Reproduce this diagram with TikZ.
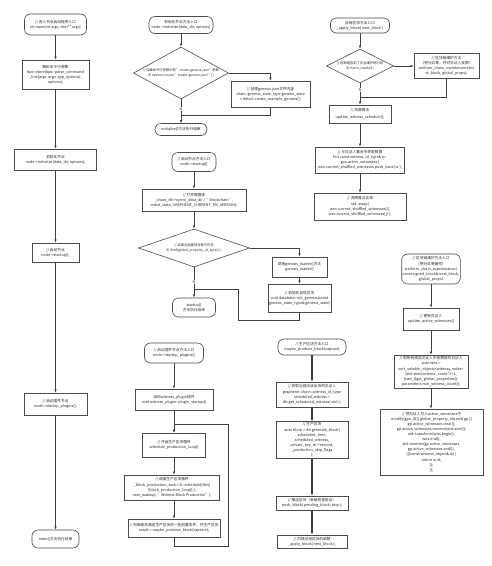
\documentclass[tikz,border=0pt]{standalone}
\usepackage{fontspec}
\setmainfont{Noto Sans CJK SC}
\usetikzlibrary{arrows.meta,shapes.geometric}
\newcommand\ft{\fontsize{3.7}{5.1}\selectfont}
\newcommand\fd{\fontsize{3.3}{4.8}\selectfont}
\tikzset{
  box/.style={draw=black!70, line width=0.6pt, fill=white, align=center, inner sep=1pt, font=\ft, text=black!85},
  term/.style={box, rounded corners=6pt},
  dia/.style={draw=black!70, line width=0.6pt, fill=white, diamond, inner sep=0pt},
  dtxt/.style={align=center, inner sep=0pt, font=\fd, text=black!85},
  ln/.style={line width=0.6pt, draw=black!75},
  arr/.style={ln, -{Latex[length=3.2pt,width=2.6pt]}},
  thk/.style={line width=1.1pt},
  lab/.style={font=\ft, fill=white, inner sep=0.5pt, text=black!85}
}
\begin{document}
\begin{tikzpicture}[x=1pt,y=-1pt]
\useasboundingbox[fill=white] (0,0) rectangle (492,566);

% ---------- column 1 ----------
\node[term, minimum width=62pt, minimum height=21pt] (s1) at (55.5,24.5) {// 进入节点启动程序入口\\int main(int argc, char** argv)};
\node[box, minimum width=67pt, minimum height=29pt] (p1) at (55.5,74.5) {解析命令行参数\\bpo::store(bpo::parse\_command\\\_line(argc, argv, app\_options),\\options);};
\node[box, minimum width=82pt, minimum height=21pt] (p2) at (55.5,159.5) {初始化节点\\node->initialize(data\_dir, options);};
\node[box, minimum width=47pt, minimum height=19pt] (p3) at (55.5,252.5) {// 启动节点\\node->startup();};
\node[box, minimum width=63pt, minimum height=22pt] (p4) at (55.5,404) {// 启动插件节点\\node->startup\_plugins();};
\node[term, minimum width=47pt, minimum height=18pt] (e1) at (55.5,539) {main()方法执行结束};
\draw[arr] (s1) -- (p1);
\draw[arr] (p1) -- (p2);
\draw[arr] (p2) -- (p3);
\draw[arr] (p3) -- (p4);
\draw[arr] (p4) -- (e1);

% ---------- column 2 top ----------
\node[term, minimum width=64pt, minimum height=17pt] (s2) at (181,25) {初始化节点方法入口\\node->initialize(data\_dir, options)};
\node[dia, minimum width=95pt, minimum height=52pt] (d1) at (181,73) {};
\node[dtxt] (d1t) at (d1.center) {// 如果命令行参数中有"create-genesis-json"参数\\if( options.count("create-genesis-json") )};
\node[box, minimum width=79pt, minimum height=26pt] (g1) at (270.5,94) {// 创建genesis.json文件内容\\chain::genesis\_state\_type genesis\_state\\= detail::create\_example\_genesis();};
\node[term, minimum width=52pt, minimum height=12pt] (e2) at (181,129.5) {initialize()方法执行结束};
\coordinate (j1) at (181,115);
\draw[arr] (s2) -- (d1.north);
\draw[arr] (d1.east) -| (g1.north);
\draw[ln] (g1.south) |- (j1);
\draw[arr] (d1.south) -- (e2.north);
\node[lab] (n1) at (181,109) {N};

% ---------- column 2 middle ----------
\node[term, minimum width=44pt, minimum height=19pt] (s3) at (194,162) {// 启动节点方法入口\\node->startup()};
\node[box, minimum width=104pt, minimum height=22pt] (p5) at (194,200) {// 打开数据库\\\_chain\_db->open(\_data\_dir / "blockchain",\\initial\_state, GRAPHENE\_CURRENT\_DB\_VERSION);};
\node[dia, minimum width=111pt, minimum height=38pt] (d2) at (194,248) {};
\node[dtxt] (d2t) at (d2.center) {// 如果全局属性对象不存在\\if( !find(global\_property\_id\_type()) )};
\node[box, minimum width=55pt, minimum height=20pt] (g2) at (299.5,267) {调用genesis\_loader()方法\\genesis\_loader()};
\node[box, minimum width=61pt, minimum height=28pt] (g3) at (299.5,298) {// 初始化创世区块\\void database::init\_genesis(const\\genesis\_state\_type\& genesis\_state)};
\node[term, minimum width=43pt, minimum height=19pt] (e3) at (194,307.5) {startup()\\方法执行结束};
\coordinate (j2a) at (238,320);
\coordinate (j2) at (194,289);
\draw[arr] (s3) -- (p5);
\draw[arr] (p5) -- (d2.north);
\draw[arr] (d2.east) -| (g2.north);
\draw[arr] (g2) -- (g3);
\draw[ln] (g3.south) |- (j2a) |- (j2);
\draw[arr] (d2.south) -- (e3.north);
\node[lab] (n2) at (194,282) {N};

% ---------- column 2 bottom ----------
\node[term, minimum width=59pt, minimum height=20pt] (s4) at (174,353) {// 启动插件节点方法入口\\node->startup\_plugins()};
\node[box, minimum width=78pt, minimum height=21pt] (p6) at (174,399.5) {启动witness\_plugin插件\\void witness\_plugin::plugin\_startup()};
\node[box, minimum width=63pt, minimum height=24pt] (p7) at (174,445) {// 开启生产区块循环\\schedule\_production\_loop()};
\node[box, minimum width=95pt, minimum height=25pt] (p8) at (172,487.5) {// 调度生产区块循环\\\_block\_production\_task = fc::schedule([this]\\\{block\_production\_loop();\},\\next\_wakeup, "Witness Block Production");};
\node[box, minimum width=92pt, minimum height=18pt] (p9) at (174,528) {// 判断是否满足生产区块的一些前置条件，并生产区块\\result = maybe\_produce\_block(capture);};
\coordinate (l1) at (228,546);
\coordinate (l2) at (174,424);
\draw[arr] (s4) -- (p6);
\draw[arr] (p6) -- (p7);
\draw[arr] (p7) -- (p7 |- p8.north);
\draw[arr] (p8.south -| p9) -- (p9);
\draw[arr] (p9.south) |- (l1) |- (l2) -- (p7.north);

% ---------- column 3 top ----------
\node[term, minimum width=59pt, minimum height=15pt] (s5) at (360,25.5) {应用区块方法入口\\\_apply\_block( next\_block )};
\node[dia, minimum width=67pt, minimum height=34pt] (d3) at (360,66) {};
\node[dtxt] (d3t) at (d3.center) {// 判断是否到了应当维护的时间\\if( maint\_needed )};
\node[box, minimum width=65pt, minimum height=25pt] (g4) at (446.5,66) {// 区块链维护方法\\（把分红等，并对见证人投票）\\perform\_chain\_maintenance(ne\\xt\_block, global\_props);};
\node[box, minimum width=62pt, minimum height=18pt] (p10) at (360,114) {// 洗牌算法\\[1.5pt]update\_witness\_schedule();};
\node[box, minimum width=89pt, minimum height=26pt] (p11) at (360,160) {// 从见证人集合中获取数据\\for( const witness\_id\_type\& w :\\gpo.active\_witnesses )\\wso.current\_shuffled\_witnesses.push\_back( w );};
\node[box, minimum width=92pt, minimum height=27pt] (p12) at (360,206.5) {// 洗牌算法实现\\std::swap(\\wso.current\_shuffled\_witnesses[i],\\wso.current\_shuffled\_witnesses[j] );};
\coordinate (j3) at (360,97);
\draw[arr] (s5) -- (d3.north);
\draw[arr] (d3.east) -- (g4.west);
\draw[ln] (g4.south) |- (j3);
\draw[arr] (d3.south) -- (p10.north);
\node[lab] (n3) at (360,90) {N};
\draw[arr] (p10) -- (p11);
\draw[arr] (p11) -- (p12);

% ---------- column 3 bottom ----------
\node[term, minimum width=68pt, minimum height=16pt] (s6) at (312,347) {// 生产区块方法入口\\maybe\_produce\_block(capture)};
\node[box, minimum width=72pt, minimum height=25pt] (p13) at (312,394.5) {// 获取当前应该出块的见证人\\graphene::chain::witness\_id\_type\\scheduled\_witness =\\db.get\_scheduled\_witness( slot );};
\node[box, minimum width=72pt, minimum height=36pt] (p14) at (312,440) {// 生产区块\\auto block = db.generate\_block(\\scheduled\_time,\\scheduled\_witness,\\private\_key\_itr->second,\\\_production\_skip\_flags\\);};
\node[box, minimum width=72pt, minimum height=14pt] (p15) at (312,503) {// 推送区块（会被检查验证）\\push\_block( pending\_block, skip );};
\node[box, minimum width=70pt, minimum height=13pt] (p16) at (312,541.5) {// 内部应用区块的函数\\\_apply\_block( next\_block );};
\draw[arr, thk] (s6) -- (p13);
\draw[arr, thk] (p13) -- (p14);
\draw[arr, thk] (p14) -- (p15);
\draw[arr, thk] (p15) -- (p16);

% ---------- column 4 ----------
\node[term, minimum width=57pt, minimum height=30pt] (s7) at (431,269) {// 区块链维护方法入口\\（把分红等操作）\\perform\_chain\_maintenance(\\const signed\_block\& next\_block,\\global\_props)};
\node[box, minimum width=56pt, minimum height=22pt] (p17) at (431,319) {// 更新见证人\\update\_active\_witnesses()};
\node[box, minimum width=74pt, minimum height=33pt] (p18) at (431,371.5) {// 取所有候选见证人中投票前的见证人\\auto wits =\\sort\_votable\_objects<witness\_index>\\(std::max(witness\_count*2+1,\\(size\_t)get\_global\_properties().\\parameters.min\_witness\_count));};
\node[box, minimum width=103pt, minimum height=66pt] (p19) at (431.5,442) {// 把见证人写入active\_witnesses中\\modify(gpo, [\&]( global\_property\_object\& gp )\{\\gp.active\_witnesses.clear();\\gp.active\_witnesses.reserve(wits.size());\\std::transform(wits.begin(),\\wits.end(),\\std::inserter(gp.active\_witnesses,\\gp.active\_witnesses.end()),\\{[]}(const witness\_object\& w) \{\\return w.id;\\\});\\\});};
\draw[arr] (s7) -- (p17);
\draw[arr] (p17) -- (p18);
\draw[arr] (p18) -- (p18 |- p19.north);
\end{tikzpicture}
\end{document}
